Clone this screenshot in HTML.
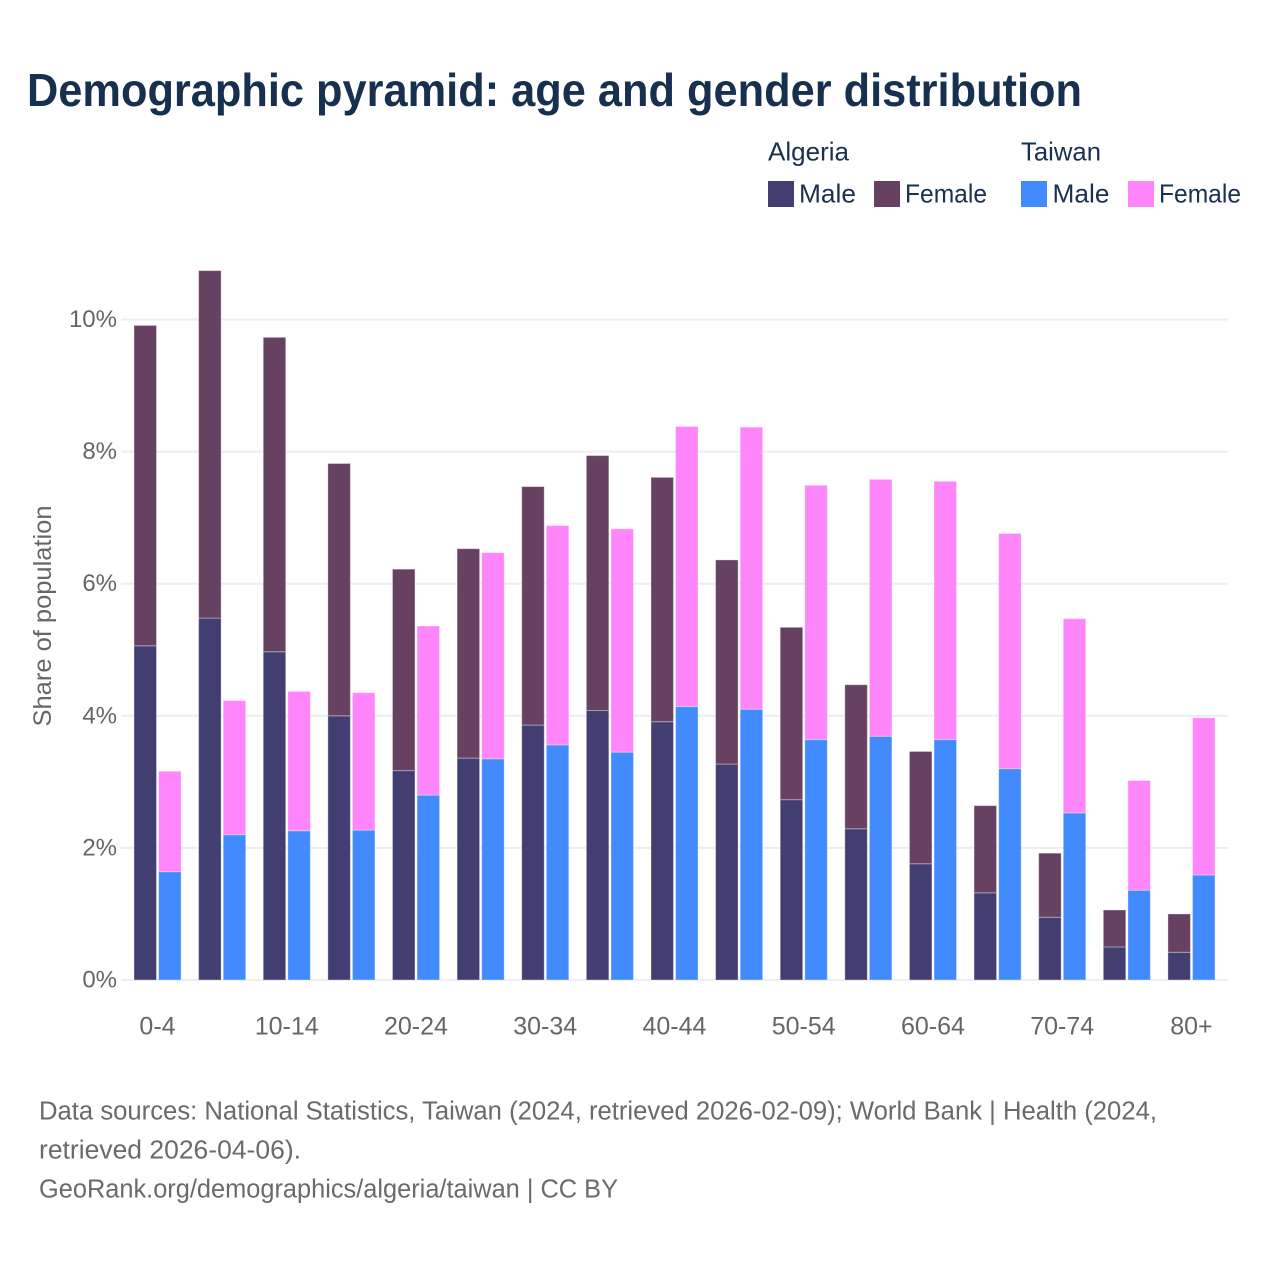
<!DOCTYPE html>
<html lang="en">
<head>
<meta charset="utf-8">
<title>Demographic pyramid: age and gender distribution</title>
<style>
html,body{margin:0;padding:0;background:#fff;}
svg{display:block;font-family:"Liberation Sans",sans-serif;}
</style>
</head>
<body>
<svg id="chart" xmlns="http://www.w3.org/2000/svg" width="1280" height="1280" viewBox="0 0 1280 1280">
<rect width="1280" height="1280" fill="#fff"/>
<text x="27" y="106" font-size="46" font-weight="bold" fill="#17304f" textLength="1055" lengthAdjust="spacingAndGlyphs">Demographic pyramid: age and gender distribution</text>

<g font-size="26" fill="#1a3052">
<text x="768" y="160.500" textLength="81" lengthAdjust="spacingAndGlyphs">Algeria</text>
<text x="1021" y="160.500" textLength="80" lengthAdjust="spacingAndGlyphs">Taiwan</text>
<rect x="768" y="181" width="26" height="26" fill="#433e71"/>
<text x="799" y="202.500" textLength="57" lengthAdjust="spacingAndGlyphs">Male</text>
<rect x="874" y="181" width="26" height="26" fill="#674161"/>
<text x="905" y="202.500" textLength="82" lengthAdjust="spacingAndGlyphs">Female</text>
<rect x="1021" y="181" width="26" height="26" fill="#418bff"/>
<text x="1052.500" y="202.500" textLength="57" lengthAdjust="spacingAndGlyphs">Male</text>
<rect x="1128" y="181" width="26" height="26" fill="#ff85fb"/>
<text x="1159" y="202.500" textLength="82" lengthAdjust="spacingAndGlyphs">Female</text>
</g>

<g id="grid"></g>
<g id="bars"></g>
<g id="xaxis"></g>

<text transform="translate(51,616) rotate(-90)" text-anchor="middle" font-size="25" fill="#666666" textLength="221" lengthAdjust="spacingAndGlyphs">Share of population</text>

<g font-size="25.500" fill="#6a6a6a">
<text x="39" y="1119.500" textLength="1118" lengthAdjust="spacingAndGlyphs">Data sources: National Statistics, Taiwan (2024, retrieved 2026-02-09); World Bank | Health (2024,</text>
<text x="39" y="1158.500" textLength="262" lengthAdjust="spacingAndGlyphs">retrieved 2026-04-06).</text>
<text x="39" y="1197.500" textLength="579" lengthAdjust="spacingAndGlyphs">GeoRank.org/demographics/algeria/taiwan | CC BY</text>
</g>
</svg>
<script>
const categories = ['0-4','5-9','10-14','15-19','20-24','25-29','30-34','35-39','40-44','45-49','50-54','55-59','60-64','65-69','70-74','75-79','80+'];
const algeriaMale = [5.06,5.48,4.97,4.00,3.17,3.36,3.86,4.08,3.91,3.27,2.73,2.29,1.76,1.32,0.95,0.50,0.42];
const algeriaFemale = [4.85,5.26,4.76,3.82,3.05,3.17,3.61,3.86,3.70,3.09,2.61,2.18,1.70,1.32,0.97,0.56,0.58];
const taiwanMale = [1.64,2.20,2.26,2.27,2.80,3.35,3.56,3.45,4.14,4.10,3.64,3.69,3.64,3.20,2.53,1.36,1.59];
const taiwanFemale = [1.52,2.03,2.11,2.08,2.56,3.12,3.32,3.38,4.24,4.27,3.85,3.89,3.91,3.56,2.94,1.66,2.38];
const yTicks = [0,2,4,6,8,10];
const xLabelEvery = 2;

const NS = 'http://www.w3.org/2000/svg';
const yScale = v => 980 - v * 66.05;
const xScale = i => 134 + i * 64.62;
const barW = 22.5;
const secondBarOffset = 24.6;

const grid = document.getElementById('grid');
const bars = document.getElementById('bars');
const xaxis = document.getElementById('xaxis');

yTicks.forEach(t => {
  const line = document.createElementNS(NS, 'line');
  
  
  line.setAttribute('x1', 121);
  line.setAttribute('x2', 1228);
  line.setAttribute('y1', yScale(t));
  line.setAttribute('y2', yScale(t));
  line.setAttribute('stroke', '#eeeef2');
  line.setAttribute('stroke-width', 2);
  grid.appendChild(line);
  const label = document.createElementNS(NS, 'text');
  
  
  label.setAttribute('x', 117);
  label.setAttribute('y', yScale(t) + 7.5);
  label.setAttribute('text-anchor', 'end');
  label.setAttribute('font-size', 24);
  label.setAttribute('fill', '#666666');
  label.textContent = t + '%';
  grid.appendChild(label);
});

function drawBar(x, base, value, color) {
  const r = document.createElementNS(NS, 'rect');
  
  
  r.setAttribute('x', x);
  r.setAttribute('y', yScale(base + value));
  r.setAttribute('width', barW);
  r.setAttribute('height', yScale(base) - yScale(base + value));
  r.setAttribute('fill', color);
  r.setAttribute('stroke', '#ffffff');
  r.setAttribute('stroke-opacity', '0.35');
  r.setAttribute('stroke-width', 1);
  bars.appendChild(r);
}

categories.forEach((c, i) => {
  const x1 = xScale(i);
  const x2 = x1 + secondBarOffset;
  drawBar(x1, 0, algeriaMale[i], '#433e71');
  drawBar(x1, algeriaMale[i], algeriaFemale[i], '#674161');
  drawBar(x2, 0, taiwanMale[i], '#418bff');
  drawBar(x2, taiwanMale[i], taiwanFemale[i], '#ff85fb');
  if (i % xLabelEvery === 0) {
    const label = document.createElementNS(NS, 'text');
    
    
    label.setAttribute('x', x1 + 23.5);
    label.setAttribute('y', 1034.5);
    label.setAttribute('text-anchor', 'middle');
    label.setAttribute('font-size', 25);
    label.setAttribute('fill', '#666666');
    label.textContent = c;
    xaxis.appendChild(label);
  }
});
</script>
</body>
</html>
